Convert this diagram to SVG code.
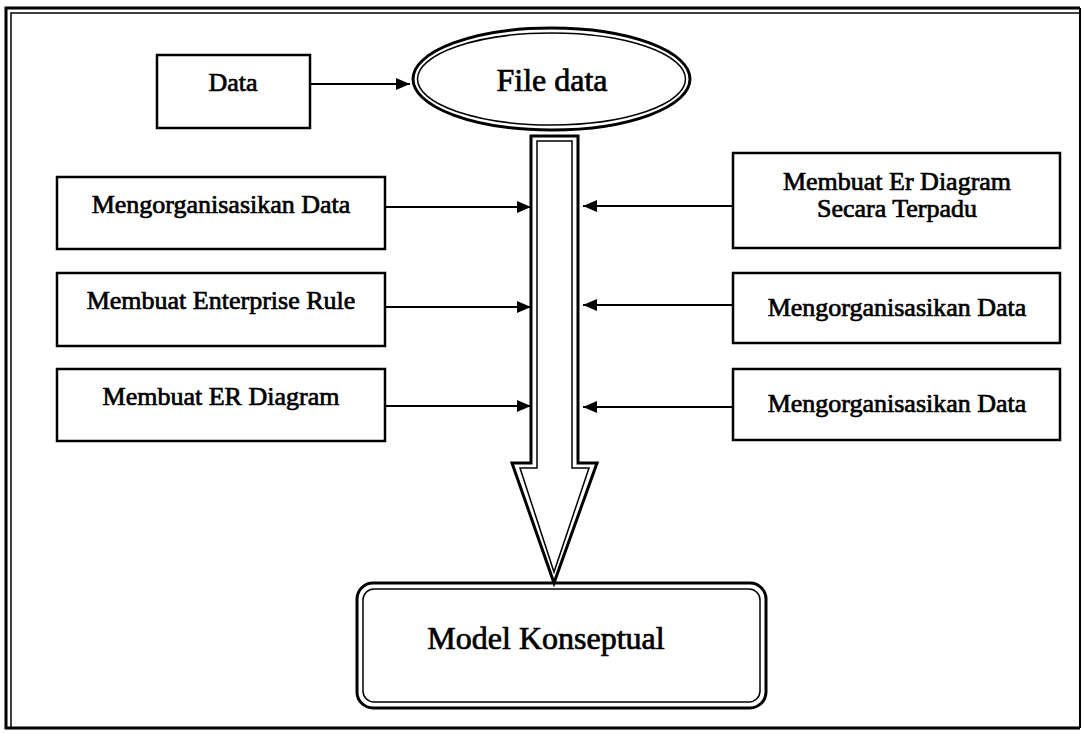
<svg xmlns="http://www.w3.org/2000/svg" width="1083" height="734" viewBox="0 0 1083 734">
<style>
  .box { fill: #fff; stroke: #000; stroke-width: 2.5; }
  .thick { fill: none; stroke: #000; stroke-width: 3; }
  .thin { fill: none; stroke: #000; stroke-width: 1.5; }
  .lbl { font-family: "Liberation Serif", "Times New Roman", serif; font-size: 26px; fill: #000; stroke: #000; stroke-width: 0.7; text-anchor: middle; }
  .big { font-size: 32px; }
  .conn { stroke: #000; stroke-width: 2; fill: none; marker-end: url(#ah); }
</style>
<defs>
  <marker id="ah" markerUnits="userSpaceOnUse" markerWidth="16" markerHeight="12" refX="14" refY="6" orient="auto">
    <path d="M0,0 L14,6 L0,12 Z" fill="#000"/>
  </marker>
</defs>
<rect width="1083" height="734" fill="#fff"/>
<g id="frame">
  <path class="thick" d="M1080,728 H6 V8 H1080"/>
  <path d="M1080,8 V728" stroke="#000" stroke-width="2" fill="none"/>
  <path class="thin" d="M11,728 V13 H1080"/>
</g>
<g id="data">
  <rect class="box" x="157" y="55" width="153" height="73"/>
  <text class="lbl" x="233" y="91">Data</text>
</g>
<g id="file-data">
  <ellipse class="thick" cx="551.5" cy="79" rx="138.5" ry="51" fill="#fff"/>
  <ellipse class="thin" cx="551.5" cy="79" rx="134" ry="46"/>
  <text class="lbl big" x="552" y="91">File data</text>
</g>
<g id="big-arrow">
  <path class="thick" d="M531,136 H578 V463 H597 L554,583 L512,463 H531 Z" fill="#fff"/>
  <path class="thin" d="M537,141 H572 V468 H589 L554,572 L520,468 H537 Z"/>
</g>
<g id="left-1">
  <rect class="box" x="57" y="177" width="328" height="72"/>
  <text class="lbl" x="221" y="213">Mengorganisasikan Data</text>
</g>
<g id="left-2">
  <rect class="box" x="57" y="273" width="328" height="73"/>
  <text class="lbl" x="221" y="309">Membuat Enterprise Rule</text>
</g>
<g id="left-3">
  <rect class="box" x="57" y="369" width="328" height="72"/>
  <text class="lbl" x="221" y="405">Membuat ER Diagram</text>
</g>
<g id="right-1">
  <rect class="box" x="733" y="153" width="327" height="95"/>
  <text class="lbl" x="897" y="190">Membuat Er Diagram</text>
  <text class="lbl" x="897" y="217">Secara Terpadu</text>
</g>
<g id="right-2">
  <rect class="box" x="733" y="273" width="327" height="70"/>
  <text class="lbl" x="897" y="316">Mengorganisasikan Data</text>
</g>
<g id="right-3">
  <rect class="box" x="733" y="369" width="327" height="71"/>
  <text class="lbl" x="897" y="412">Mengorganisasikan Data</text>
</g>
<g id="model">
  <rect class="thick" x="357" y="583" width="409" height="125" rx="16" fill="#fff"/>
  <rect class="thin" x="363" y="589" width="397" height="113" rx="11"/>
  <text class="lbl big" x="546" y="649">Model Konseptual</text>
</g>
<g id="connectors">
  <line class="conn" x1="310" y1="84" x2="410" y2="84"/>
  <line class="conn" x1="385" y1="207" x2="531" y2="207"/>
  <line class="conn" x1="385" y1="307" x2="531" y2="307"/>
  <line class="conn" x1="385" y1="406" x2="531" y2="406"/>
  <line class="conn" x1="733" y1="206" x2="583" y2="206"/>
  <line class="conn" x1="733" y1="305" x2="583" y2="305"/>
  <line class="conn" x1="733" y1="407" x2="583" y2="407"/>
</g>
</svg>
